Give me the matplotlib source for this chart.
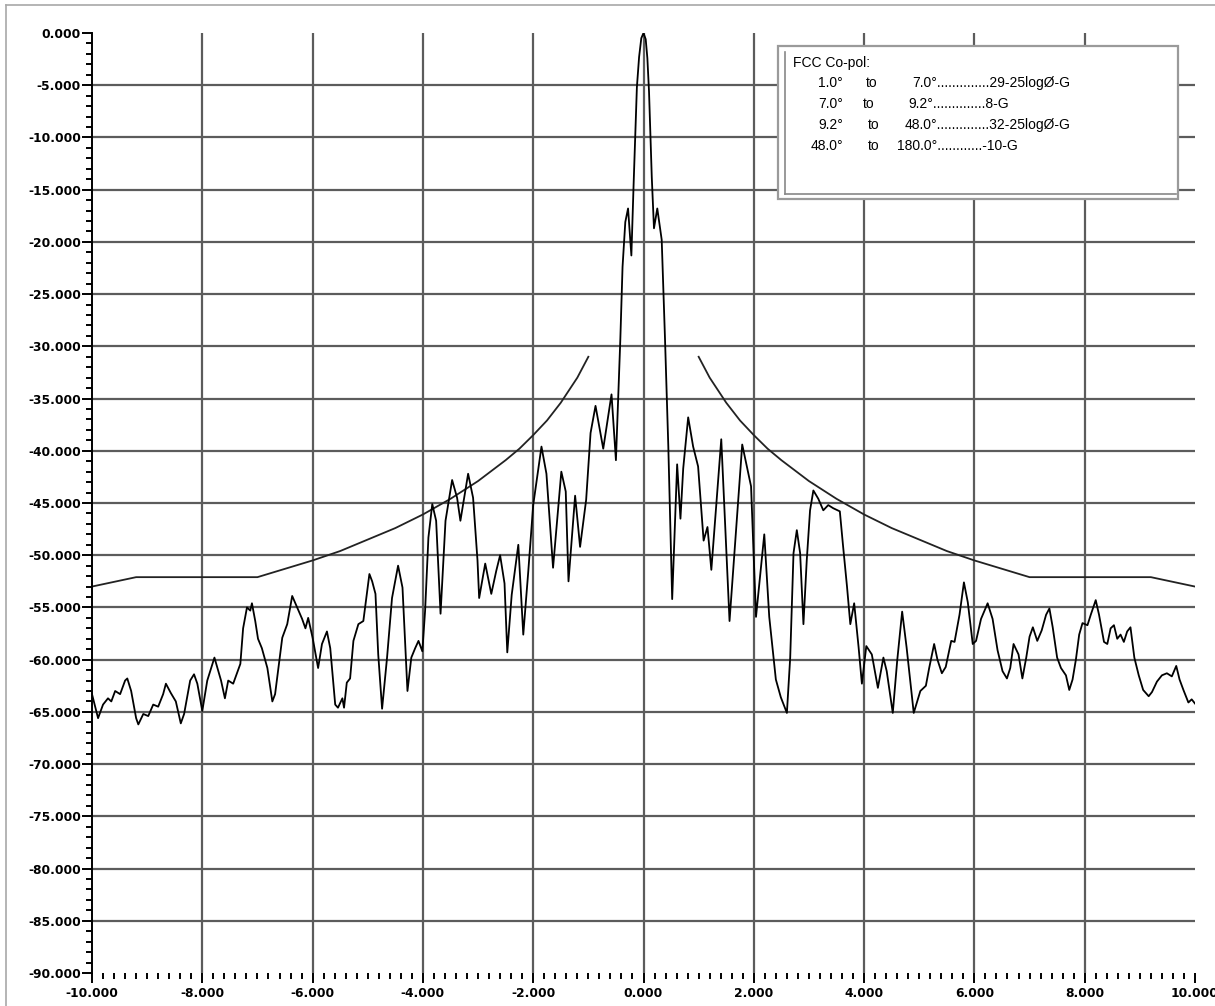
import numpy as np
import matplotlib.pyplot as plt
from matplotlib.ticker import MultipleLocator
from matplotlib.lines import Line2D
from matplotlib.patches import Rectangle

# antenna pattern (angle in deg, level in dB)
pattern_x = [-10.0, -9.89, -9.8, -9.71, -9.65, -9.58, -9.49, -9.40, -9.36, -9.29, -9.2, -9.16,
             -9.07, -8.98, -8.89, -8.8, -8.71, -8.66, -8.57, -8.48, -8.39, -8.33, -8.22, -8.15,
             -8.09, -8.0, -7.91, -7.78, -7.66, -7.59, -7.53, -7.44, -7.31, -7.26, -7.19, -7.13,
             -7.10, -7.04, -6.99, -6.92, -6.82, -6.73, -6.68, -6.55, -6.46, -6.37, -6.28, -6.19,
             -6.13, -6.08, -6.0, -5.9, -5.83, -5.74, -5.68, -5.59, -5.54, -5.46, -5.43, -5.38,
             -5.32, -5.26, -5.17, -5.08, -4.97, -4.92, -4.86, -4.81, -4.74, -4.65, -4.56, -4.45,
             -4.37, -4.28, -4.21, -4.14, -4.08, -4.01, -3.96, -3.90, -3.83, -3.76, -3.68, -3.59,
             -3.47, -3.38, -3.32, -3.23, -3.18, -3.09, -3.01, -2.98, -2.87, -2.76, -2.67, -2.60,
             -2.52, -2.47, -2.39, -2.27, -2.18, -2.09, -2.0, -1.85, -1.76, -1.64, -1.49, -1.41,
             -1.36, -1.24, -1.15, -1.04, -0.96, -0.87, -0.73, -0.58, -0.50, -0.42, -0.38, -0.33,
             -0.28, -0.22, -0.18, -0.12, -0.08, -0.04, 0.0, 0.04, 0.07, 0.10, 0.15, 0.19,
             0.25, 0.33,
             0.39, 0.45, 0.52, 0.61, 0.67, 0.72, 0.81, 0.90, 0.99, 1.09, 1.16, 1.23,
             1.41, 1.56, 1.79, 1.95, 2.04, 2.19, 2.28, 2.40, 2.49, 2.60, 2.66, 2.72,
             2.78, 2.84, 2.90, 2.96, 3.02, 3.08, 3.17, 3.26, 3.35, 3.44, 3.56, 3.62,
             3.69, 3.75, 3.82, 3.90, 3.96, 4.04, 4.14, 4.25, 4.35, 4.41, 4.52, 4.60,
             4.69, 4.77, 4.90, 5.02, 5.12, 5.18, 5.27, 5.33, 5.41, 5.48, 5.58, 5.64,
             5.73, 5.81, 5.88, 5.97, 6.03, 6.12, 6.24, 6.33, 6.42, 6.51, 6.59, 6.65,
             6.71, 6.80, 6.87, 6.94, 7.0, 7.06, 7.14, 7.22, 7.30, 7.36, 7.42, 7.50,
             7.57, 7.66, 7.72, 7.78, 7.84, 7.90, 7.96, 8.05, 8.11, 8.20, 8.26, 8.35,
             8.41, 8.47, 8.53, 8.59, 8.65, 8.71, 8.77, 8.83, 8.90, 8.98, 9.06, 9.16,
             9.22, 9.31, 9.40, 9.49, 9.58, 9.66, 9.72, 9.79, 9.88, 9.94, 10.0]
pattern_db = [-63.3, -65.6, -64.3, -63.7, -64.0, -63.0, -63.3, -62.0, -61.8, -63.0, -65.6, -66.2,
              -65.2, -65.4, -64.3, -64.5, -63.3, -62.3, -63.2, -64.0, -66.1, -65.2, -62.0, -61.4,
              -62.3, -64.9, -62.0, -59.8, -62.0, -63.7, -62.0, -62.3, -60.4, -57.0, -55.0, -55.3,
              -54.6, -56.3, -58.0, -58.9, -60.8, -64.0, -63.3, -57.9, -56.6, -53.9, -55.0, -56.1,
              -57.0, -56.0, -57.9, -60.8, -58.5, -57.3, -58.9, -64.3, -64.6, -63.7, -64.6, -62.2,
              -61.8, -58.2, -56.6, -56.3, -51.8, -52.5, -53.7, -59.5, -64.7, -59.8, -54.1, -51.0,
              -53.1, -63.0, -59.8, -58.9, -58.2, -59.2, -55.3, -48.3, -45.1, -46.7, -55.6, -46.7,
              -42.8, -44.5, -46.7, -43.8, -42.2, -44.5, -50.5, -54.1, -50.8, -53.7, -51.5, -50.0,
              -52.7, -59.3, -53.8, -49.0, -57.6, -51.6, -45.2, -39.6, -42.2, -51.2, -42.0, -43.9,
              -52.5, -44.3, -49.2, -44.7, -38.3, -35.7, -39.8, -34.6, -40.9, -29.3, -22.4, -18.1,
              -16.8, -21.3, -14.6, -5.2, -2.3, -0.5, 0.0, -0.6, -2.4, -5.6, -13.8, -18.7,
              -16.8, -19.8,
              -29.3, -39.6, -54.2, -41.3, -46.5, -41.7, -36.8, -39.6, -41.5, -48.6, -47.3, -51.4,
              -38.9, -56.3, -39.4, -43.4, -55.9, -48.0, -55.9, -61.9, -63.6, -65.1, -59.8, -49.8,
              -47.6, -49.8, -56.6, -50.5, -45.7, -43.8, -44.6, -45.7, -45.2, -45.5, -45.8, -49.2,
              -53.0, -56.6, -54.6, -58.8, -62.3, -58.7, -59.5, -62.7, -59.8, -61.1, -65.1, -60.1,
              -55.4, -58.8, -65.1, -63.0, -62.5, -60.8, -58.5, -60.0, -61.3, -60.7, -58.2, -58.3,
              -55.7, -52.6, -54.5, -58.5, -58.2, -56.1, -54.6, -56.1, -59.1, -61.1, -61.8, -60.8,
              -58.5, -59.5, -61.8, -59.8, -57.8, -56.9, -58.2, -57.2, -55.7, -55.1, -56.9, -59.8,
              -60.8, -61.5, -62.9, -61.9, -60.0, -57.6, -56.5, -56.7, -55.7, -54.3, -55.7, -58.3,
              -58.5, -57.0, -56.7, -58.0, -57.6, -58.3, -57.3, -56.9, -59.8, -61.5, -62.9, -63.5,
              -63.1, -62.1, -61.5, -61.3, -61.6, -60.6, -61.9, -62.9, -64.1, -63.8, -64.2]

# FCC co-pol envelope (off-axis angle in deg, level in dB), same on both sides
mask_angle = [1.0, 1.1, 1.2, 1.3, 1.5, 1.75, 2.0, 2.25, 2.5, 3.0, 3.5, 4.0,
              4.5, 5.0, 5.5, 6.0, 6.5, 7.0, 9.2, 10.0]
mask_db = [-31.0, -32.0, -33.0, -33.8, -35.4, -37.1, -38.5, -39.8, -40.9, -42.9, -44.6, -46.1,
           -47.4, -48.5, -49.6, -50.5, -51.3, -52.1, -52.1, -53.0]

x_ticks = [-10, -8, -6, -4, -2, 0, 2, 4, 6, 8, 10]
x_labels = ['-10.000', '-8.000', '-6.000', '-4.000', '-2.000', '0.000',
            '2.000', '4.000', '6.000', '8.000', '10.000']
y_ticks = [0, -5, -10, -15, -20, -25, -30, -35, -40, -45, -50, -55, -60, -65, -70, -75, -80, -85, -90]
y_labels = ['0.000', '-5.000', '-10.000', '-15.000', '-20.000', '-25.000', '-30.000', '-35.000',
            '-40.000', '-45.000', '-50.000', '-55.000', '-60.000', '-65.000', '-70.000', '-75.000',
            '-80.000', '-85.000', '-90.000']

legend_title = 'FCC Co-pol:'
legend_from = ['1.0°', '7.0°', '9.2°', '48.0°']
legend_to = ['7.0°', '9.2°', '48.0°', '180.0°']
legend_rule = ['29-25logØ-G', '8-G', '32-25logØ-G', '-10-G']

W, H = 1215, 1006


def fx(px):
    return px / W


def fy(py):
    return 1 - py / H


fig = plt.figure(figsize=(12.15, 10.06), dpi=100)
ax = fig.add_axes([fx(92), fy(973), fx(1195) - fx(92), fy(33) - fy(973)])
ax.set_xlim(-10, 10)
ax.set_ylim(-90, 0)

for s in ['top', 'right', 'bottom']:
    ax.spines[s].set_visible(False)
ax.spines['left'].set_linewidth(1.4)

# grid, without the outer frame lines
for gx in x_ticks[1:-1]:
    ax.axvline(gx, color='#5c5c5c', lw=1.6, zorder=1)
for gy in y_ticks[1:-1]:
    ax.axhline(gy, color='#5c5c5c', lw=1.6, zorder=1)

ax.set_xticks(x_ticks, x_labels, fontweight='bold', fontsize=8.8, color='#10102a')
ax.set_yticks(y_ticks, y_labels, fontweight='bold', fontsize=8.8, color='#10102a')
ax.xaxis.set_minor_locator(MultipleLocator(0.2))
ax.yaxis.set_minor_locator(MultipleLocator(1))
ax.tick_params(which='major', direction='out', length=7, width=1.4, colors='black')
ax.tick_params(axis='x', which='major', pad=3)
ax.tick_params(axis='y', which='major', pad=1)
ax.tick_params(which='minor', direction='out', length=4, width=1.4)

ax.plot(pattern_x, pattern_db, color='black', lw=1.3, zorder=3)
m_ang = np.array(mask_angle)
ax.plot(-m_ang, mask_db, color='#222222', lw=1.3, zorder=2)
ax.plot(m_ang, mask_db, color='#222222', lw=1.3, zorder=2)

# legend box
fig.patches.append(Rectangle((fx(778), fy(199)), fx(1178) - fx(778), fy(46) - fy(199),
                             transform=fig.transFigure, facecolor='white',
                             edgecolor='#9a9a9a', lw=1.6, zorder=5))
fig.lines.append(Line2D([fx(785), fx(785)], [fy(52), fy(194)], transform=fig.transFigure,
                        color='#888888', lw=1.2, zorder=6))
fig.lines.append(Line2D([fx(785), fx(1176)], [fy(194), fy(194)], transform=fig.transFigure,
                        color='#888888', lw=1.2, zorder=6))

tkw = dict(fontsize=10, family='Liberation Sans', va='center', zorder=7)
fig.text(fx(793), fy(63), legend_title, ha='left', **tkw)
rows_y = [83, 104, 125, 146]
to_x = [866, 863, 868, 868]
col3_x = [912, 908, 905, 897]
dots = ['..............', '..............', '..............', '............']
for i in range(4):
    fig.text(fx(843), fy(rows_y[i]), legend_from[i], ha='right', **tkw)
    fig.text(fx(to_x[i]), fy(rows_y[i]), 'to', ha='left', **tkw)
    fig.text(fx(col3_x[i]), fy(rows_y[i]), legend_to[i] + dots[i] + legend_rule[i],
             ha='left', fontstretch='condensed', **tkw)

# outer frame of the picture
fig.lines.append(Line2D([fx(6), fx(1215)], [fy(5), fy(5)], transform=fig.transFigure,
                        color='#a8a8a8', lw=1.2))
fig.lines.append(Line2D([fx(6), fx(6)], [fy(5), fy(1006)], transform=fig.transFigure,
                        color='#a8a8a8', lw=1.2))

fig.savefig('out.png', dpi=100)
